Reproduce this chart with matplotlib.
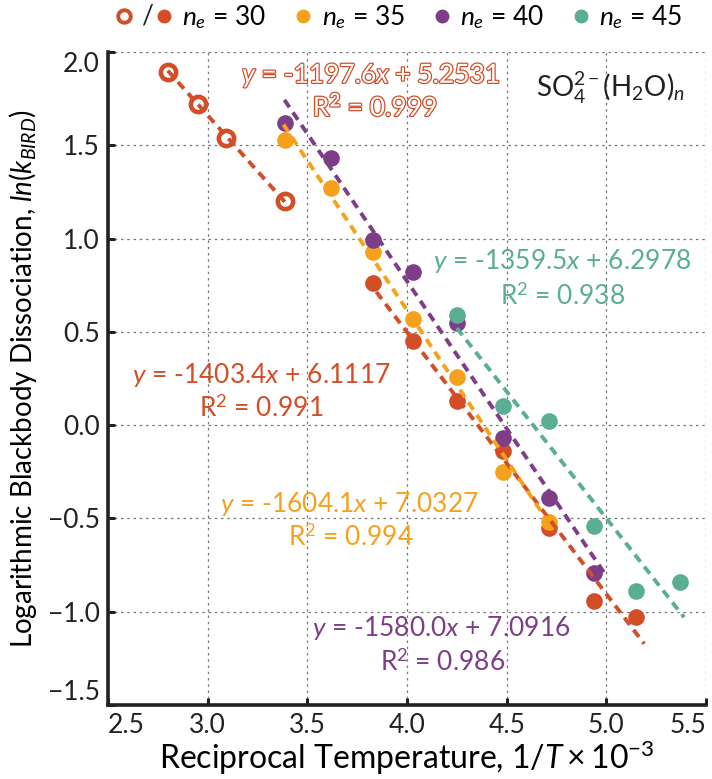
import numpy as np
import matplotlib.pyplot as plt
import matplotlib.patheffects as pe
from matplotlib.lines import Line2D
from matplotlib.text import Text
from matplotlib.legend_handler import HandlerBase

plt.rcParams['font.family'] = 'Lato'
plt.rcParams['mathtext.fontset'] = 'custom'
plt.rcParams['mathtext.rm'] = 'Lato'
plt.rcParams['mathtext.it'] = 'Lato:italic'
plt.rcParams['mathtext.bf'] = 'Lato:bold'

RED = '#D24E27'
ORANGE = '#F6A11C'
PURPLE = '#7D3E87'
GREEN = '#5AAE94'

# n_e = 30, open circles (high temperature set)
x30_open = [2.80, 2.95, 3.09, 3.39]
y30_open = [1.89, 1.72, 1.54, 1.20]
# n_e = 30, filled circles
x30 = [3.83, 4.03, 4.25, 4.48, 4.71, 4.94, 5.15]
y30 = [0.76, 0.45, 0.13, -0.14, -0.55, -0.94, -1.03]
# n_e = 35
x35 = [3.39, 3.62, 3.83, 4.03, 4.25, 4.48, 4.71]
y35 = [1.53, 1.27, 0.93, 0.57, 0.26, -0.25, -0.52]
# n_e = 40
x40 = [3.39, 3.62, 3.83, 4.03, 4.25, 4.48, 4.71, 4.94]
y40 = [1.62, 1.43, 0.99, 0.82, 0.55, -0.07, -0.39, -0.79]
# n_e = 45
x45 = [4.25, 4.48, 4.71, 4.94, 5.15, 5.37]
y45 = [0.59, 0.10, 0.02, -0.54, -0.89, -0.84]

# linear fits: slope (x 1e-3), intercept, R^2, x range of drawn line
slopes = [-1197.6, -1403.4, -1604.1, -1580.0, -1359.5]
intercepts = [5.2531, 6.1117, 7.0327, 7.0916, 6.2978]
r2 = ['0.999', '0.991', '0.994', '0.986', '0.938']
fit_lo = [2.80, 3.80, 3.38, 3.385, 4.25]
fit_hi = [3.39, 5.19, 4.71, 4.99, 5.39]
fit_colors = [RED, RED, ORANGE, PURPLE, GREEN]

fig = plt.figure(figsize=(7.12, 7.79), dpi=100)
ax = fig.add_axes([0.1517, 0.095, 0.8399, 0.8383])

ms = 12
ax.plot(x30_open, y30_open, 'o', ms=11, mfc='white', mec=RED, mew=3.3, zorder=3)
ax.plot(x30, y30, 'o', ms=ms, color=RED, mec='none', zorder=3)
ax.plot(x35, y35, 'o', ms=ms, color=ORANGE, mec='none', zorder=3)
ax.plot(x40, y40, 'o', ms=ms, color=PURPLE, mec='none', zorder=3)
ax.plot(x45, y45, 'o', ms=ms, color=GREEN, mec='none', zorder=3)

for s, b, lo, hi, c in zip(slopes, intercepts, fit_lo, fit_hi, fit_colors):
    xx = np.array([lo, hi])
    ax.plot(xx, s / 1000 * xx + b, color=c, lw=2.8, ls=(0, (2.3, 1.6)), zorder=4)

ax.set_xlim(2.5, 5.5)
ax.set_ylim(-1.5, 2.0)
ax.set_xticks(np.arange(2.5, 5.51, 0.5))
ax.set_yticks(np.arange(-1.5, 2.01, 0.5))
ax.set_yticklabels(['\u22121.5', '\u22121.0', '\u22120.5', '0.0', '0.5', '1.0', '1.5', '2.0'])
ax.grid(True, color='#777777', lw=0.9, ls=(0, (2, 3)))
for sp in ['top', 'right']:
    ax.spines[sp].set_visible(False)
for sp in ['left', 'bottom']:
    ax.spines[sp].set_linewidth(2.6)
    ax.spines[sp].set_color('#222222')
ax.tick_params(direction='in', length=5, width=2.2, labelsize=19, colors='#222222', pad=6)

# end labels are pulled inside the axis extent, as in the original
xt = ax.get_xticklabels()
xt[0].set_ha('left')
xt[-1].set_ha('right')
yt = ax.get_yticklabels()
yt[0].set_va('bottom')
yt[-1].set_va('top')

ax.set_xlabel(r'Reciprocal Temperature, $\mathit{1/T}\times\mathit{10}^{-3}$', fontsize=23, labelpad=0)
ax.set_ylabel(r'Logarithmic Blackbody Dissociation, $ln(k_{BIRD})$', fontsize=20, labelpad=6)

fs = 19
eq = lambda s, b: r'$y$ = -%.1f$x$ + %.4f' % (-s, b)
outline = [pe.withStroke(linewidth=1.8, foreground=RED)]
ax.text(3.82, 1.877, eq(slopes[0], intercepts[0]), color='white', fontsize=fs,
        ha='center', va='center', path_effects=outline)
ax.text(3.84, 1.705, r'R$^\mathbf{2}$ = ' + r2[0], color='white', fontsize=fs,
        ha='center', va='center', path_effects=outline)
ax.text(3.27, 0.27, eq(slopes[1], intercepts[1]), color=RED, fontsize=fs, ha='center', va='center')
ax.text(3.27, 0.087, r'R$^2$ = ' + r2[1], color=RED, fontsize=fs, ha='center', va='center')
ax.text(3.71, -0.422, eq(slopes[2], intercepts[2]), color=ORANGE, fontsize=fs, ha='center', va='center')
ax.text(3.72, -0.60, r'R$^2$ = ' + r2[2], color=ORANGE, fontsize=fs, ha='center', va='center')
ax.text(4.17, -1.087, eq(slopes[3], intercepts[3]), color=PURPLE, fontsize=fs, ha='center', va='center')
ax.text(4.18, -1.274, r'R$^2$ = ' + r2[3], color=PURPLE, fontsize=fs, ha='center', va='center')
ax.text(4.78, 0.88, eq(slopes[4], intercepts[4]), color=GREEN, fontsize=fs, ha='center', va='center')
ax.text(4.78, 0.692, r'R$^2$ = ' + r2[4], color=GREEN, fontsize=fs, ha='center', va='center')

ax.text(5.02, 1.807, r'SO$_4^{2-}$(H$_2$O)$_n$', fontsize=20, color='#222222', ha='center', va='center')


class OpenSlashFilled(HandlerBase):
    def create_artists(self, legend, orig_handle, xdescent, ydescent,
                       width, height, fontsize, trans):
        y = height / 2 - ydescent
        a = Line2D([-width * 1.0], [y], marker='o', ms=9, mfc='white', mec=RED,
                   mew=2.8, ls='none', transform=trans)
        t = Text(-width * 0.12, y, '/', ha='center', va='center',
                 fontsize=fontsize, color='#222222', transform=trans)
        b = Line2D([width * 0.5], [y], marker='o', ms=10, color=RED, mec='none',
                   ls='none', transform=trans)
        return [a, t, b]


first = Line2D([], [], color=RED)
handles = [first] + [Line2D([], [], marker='o', ms=10, color=c, mec='none', ls='none')
                     for c in [ORANGE, PURPLE, GREEN]]
labels = [r'$n_e$ = 30', r'$n_e$ = 35', r'$n_e$ = 40', r'$n_e$ = 45']
fig.legend(handles, labels, handler_map={first: OpenSlashFilled()}, loc='center',
           bbox_to_anchor=(0.585, 0.978), ncol=4, frameon=False, fontsize=19,
           handlelength=1.0, handletextpad=0.2, columnspacing=0.9)

fig.savefig('out.png', dpi=100)
